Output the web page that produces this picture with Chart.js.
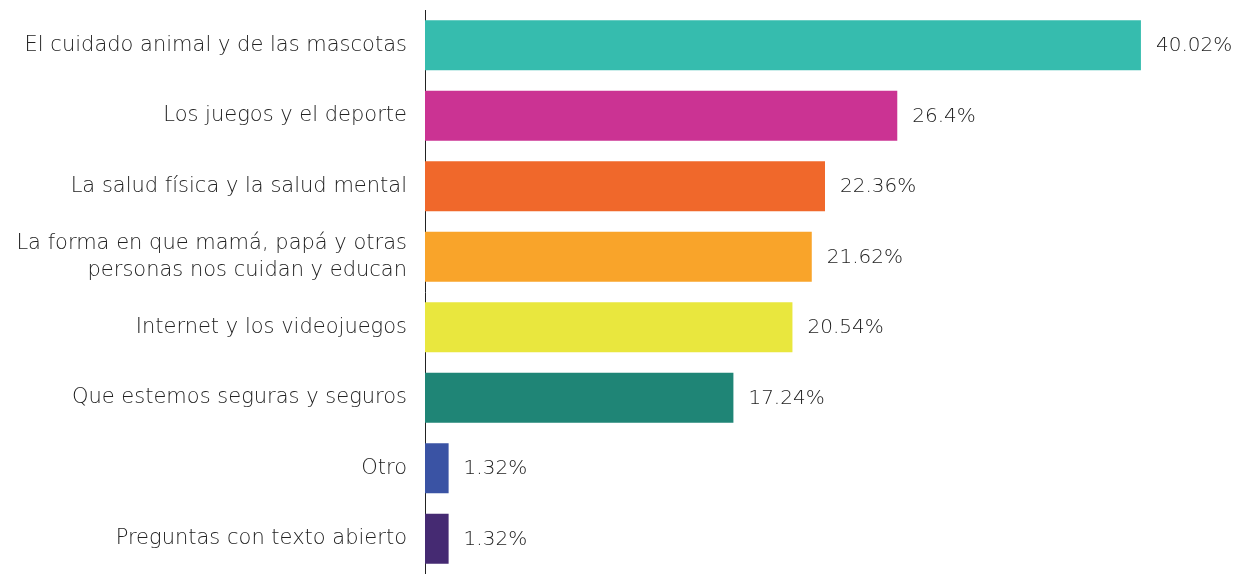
<!DOCTYPE html>
<html>
<head>
<meta charset="utf-8">
<script src="https://cdn.jsdelivr.net/npm/chart.js@4"></script>
<style>
  html, body { margin: 0; padding: 0; background: #fff; }
  #wrap { width: 1242px; height: 574px; }
</style>
</head>
<body>
<div id="wrap"><canvas id="grafico"></canvas></div>
<script>
const categorias = [
  'El cuidado animal y de las mascotas',
  'Los juegos y el deporte',
  'La salud física y la salud mental',
  ['La forma en que mamá, papá y otras', 'personas nos cuidan y educan'],
  'Internet y los videojuegos',
  'Que estemos seguras y seguros',
  'Otro',
  'Preguntas con texto abierto'
];
const valores = [40.02, 26.4, 22.36, 21.62, 20.54, 17.24, 1.32, 1.32];
const etiquetas = ['40.02%', '26.4%', '22.36%', '21.62%', '20.54%', '17.24%', '1.32%', '1.32%'];
const cores = ['#36bcae', '#cb3393', '#f0682b', '#f9a42a', '#e9e73e', '#1f8576', '#3a53a4', '#452a72'];

const fonte = "'DejaVu Sans', sans-serif";

// rótulos de valor no fim de cada barra
const rotulosValor = {
  id: 'rotulosValor',
  afterDatasetsDraw(chart) {
    const ctx = chart.ctx;
    const meta = chart.getDatasetMeta(0);
    ctx.save();
    ctx.font = '200 20px ' + fonte;
    ctx.fillStyle = '#222';
    ctx.textBaseline = 'middle';
    ctx.textAlign = 'left';
    meta.data.forEach((barra, i) => {
      ctx.fillText(etiquetas[i], barra.x + 15, barra.y + 1);
    });
    ctx.restore();
  }
};

new Chart(document.getElementById('grafico'), {
  type: 'bar',
  data: {
    labels: categorias,
    datasets: [{
      data: valores,
      backgroundColor: cores,
      borderWidth: 0,
      categoryPercentage: 1,
      barPercentage: 0.71
    }]
  },
  options: {
    indexAxis: 'y',
    responsive: true,
    maintainAspectRatio: false,
    animation: false,
    layout: { padding: { top: 10, right: 0, bottom: 0, left: 0 } },
    plugins: {
      legend: { display: false },
      tooltip: { enabled: false }
    },
    scales: {
      x: {
        display: false,
        min: 0,
        max: 45.67
      },
      y: {
        afterFit(scale) {
          scale.width = 425;
          scale.paddingTop = 0;
          scale.paddingBottom = 0;
        },
        grid: { display: false, drawTicks: false },
        border: { display: true, color: '#222', width: 1 },
        ticks: {
          color: '#222',
          padding: 18,
          font: { family: fonte, size: 21, weight: '200', lineHeight: 1.3 }
        }
      }
    }
  },
  plugins: [rotulosValor]
});
</script>
</body>
</html>
